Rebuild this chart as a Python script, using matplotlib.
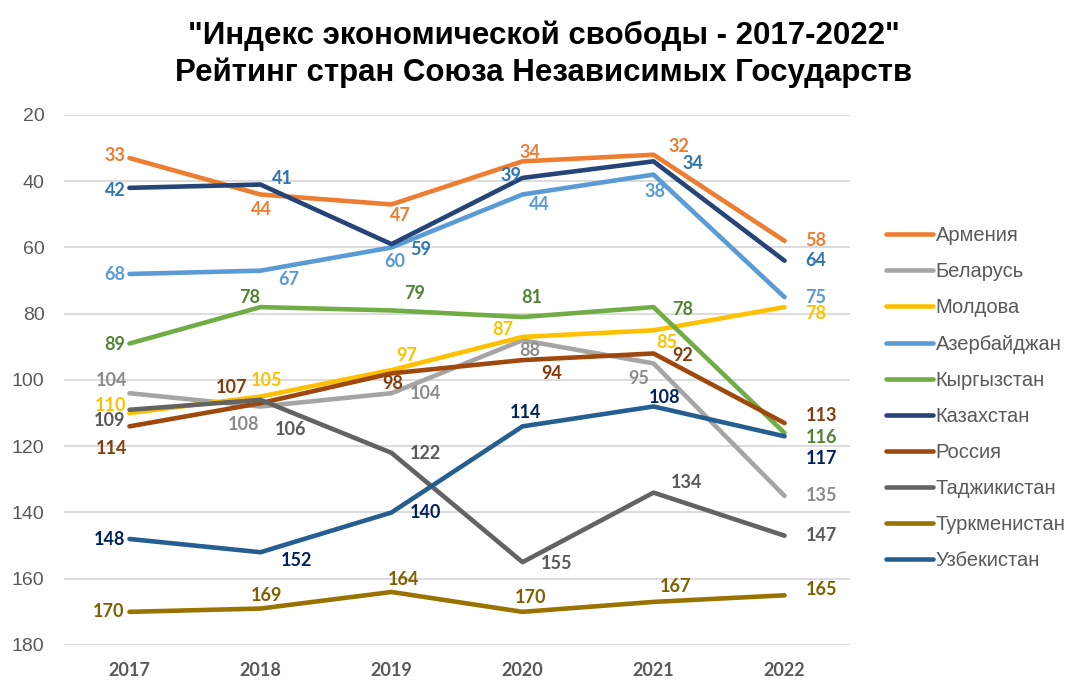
import matplotlib
matplotlib.use("Agg")
import matplotlib.pyplot as plt

# данные: место в рейтинге (чем меньше, тем лучше)
years = ["2017", "2018", "2019", "2020", "2021", "2022"]

armenia = [33, 44, 47, 34, 32, 58]
belarus = [104, 108, 104, 88, 95, 135]
moldova = [110, 105, 97, 87, 85, 78]
azerbaijan = [68, 67, 60, 44, 38, 75]
kyrgyzstan = [89, 78, 79, 81, 78, 116]
kazakhstan = [42, 41, 59, 39, 34, 64]
russia = [114, 107, 98, 94, 92, 113]
tajikistan = [109, 106, 122, 155, 134, 147]
turkmenistan = [170, 169, 164, 170, 167, 165]
uzbekistan = [148, 152, 140, 114, 108, 117]

names = ["Армения", "Беларусь", "Молдова", "Азербайджан", "Кыргызстан",
         "Казахстан", "Россия", "Таджикистан", "Туркменистан", "Узбекистан"]
series = [armenia, belarus, moldova, azerbaijan, kyrgyzstan,
          kazakhstan, russia, tajikistan, turkmenistan, uzbekistan]

line_colors = ["#ED7D31", "#A5A5A5", "#FFC000", "#5B9BD5", "#70AD47",
               "#264478", "#9E480E", "#636363", "#997300", "#255E91"]
label_colors = ["#ED7D31", "#8C8C8C", "#FFC000", "#5B9BD5", "#548235",
                "#2E75B6", "#843C0C", "#595959", "#7F6000", "#002060"]

# сдвиг подписей от точки в пикселях (dx, dy), как в оригинале
label_off = [
    [(-4, 3), (1, -15), (9, -11), (7, 9), (25, 8), (21, 0)],
    [(-2, 13), (-17, -18), (34, 0), (7, -10), (-15, -15), (21, 0)],
    [(-3, 8), (6, 16), (15, 15), (-20, 7), (13, -12), (21, -6)],
    [(-4, -1), (28, -9), (3, -14), (17, -10), (1, -17), (21, 0)],
    [(-4, -1), (-11, 10), (23, 17), (9, 20), (29, -2), (21, -5)],
    [(-4, -3), (22, 6), (29, -5), (-12, 2), (39, -2), (21, 0)],
    [(-2, -22), (-29, 16), (1, -10), (29, -13), (29, -2), (21, 8)],
    [(-4, -11), (30, -30), (34, -1), (34, -1), (33, 10), (21, 0)],
    [(-5, 0), (6, 13), (12, 12), (8, 14), (22, 15), (21, 6)],
    [(-4, -1), (36, -8), (34, 0), (3, 14), (11, 9), (21, -22)],
]

fig = plt.figure(figsize=(10.88, 6.96), dpi=100)
ax = fig.add_axes([0.0588, 0.0733, 0.7225, 0.7615])

x = list(range(len(years)))
for i in range(len(series)):
    ax.plot(x, series[i], color=line_colors[i], lw=3.3, label=names[i],
            solid_capstyle="round", solid_joinstyle="round", zorder=3)
    for j in range(len(x)):
        dx, dy = label_off[i][j]
        ha = "center"
        if j == 0:
            ha = "right"
        elif j == len(x) - 1:
            ha = "left"
        ax.annotate(str(series[i][j]), (x[j], series[i][j]), xytext=(dx, dy),
                    textcoords="offset pixels", ha=ha, va="center",
                    fontsize=13, fontweight="bold", family="Lato",
                    color=label_colors[i], zorder=4)

ax.set_xlim(-0.5, 5.5)
ax.set_ylim(180, 20)
ax.set_yticks(range(20, 181, 20))
ax.set_xticks(x)
ax.set_xticklabels(years, fontweight="bold", family="Lato", fontsize=13)
ax.grid(axis="y", color="#D9D9D9", lw=1.3)
ax.set_axisbelow(True)
for s in ax.spines.values():
    s.set_visible(False)
ax.tick_params(length=0, colors="#595959")
ax.tick_params(axis="y", labelsize=14, pad=14)
ax.tick_params(axis="x", pad=12)
for t in ax.get_yticklabels():
    t.set_family("Liberation Sans")

fig.text(0.5, 0.949, "\"Индекс экономической свободы - 2017-2022\"",
         ha="center", va="center", fontsize=22.5, fontweight="bold",
         family="Liberation Sans")
fig.text(0.5, 0.896, "Рейтинг стран Союза Независимых Государств",
         ha="center", va="center", fontsize=22.5, fontweight="bold",
         family="Liberation Sans")

leg = fig.legend(loc="upper left", bbox_to_anchor=(0.798, 0.701), frameon=False,
                 prop={"family": "Liberation Sans", "size": 14.5},
                 handlelength=2.3, handletextpad=0.15, labelspacing=0.85)
for t in leg.get_texts():
    t.set_color("#595959")

fig.savefig("out.png", dpi=100)
